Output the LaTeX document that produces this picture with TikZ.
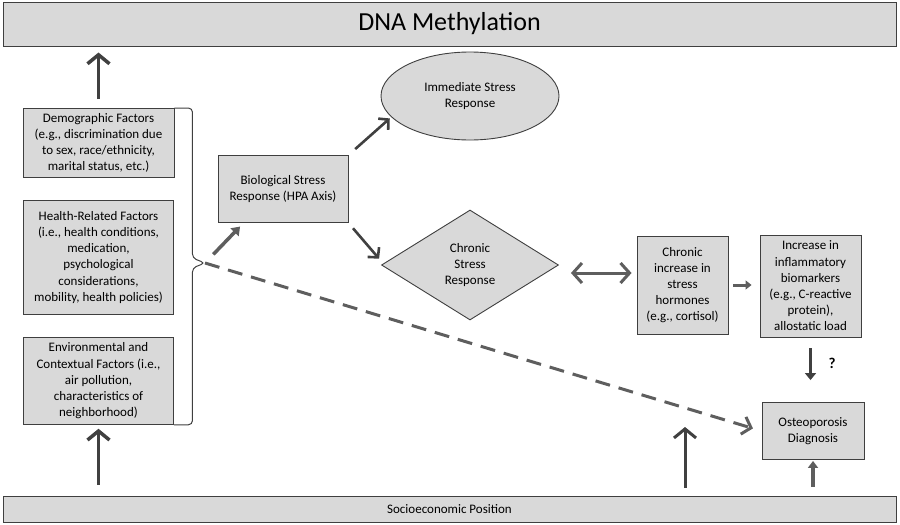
\documentclass[tikz,border=0pt]{standalone}
\usepackage{fontspec}
\setmainfont{Carlito}
\usetikzlibrary{shapes.geometric,arrows.meta,positioning,calc}
\definecolor{boxgray}{HTML}{D9D9D9}
\definecolor{edgegray}{HTML}{3F3F3F}
\definecolor{arrdark}{HTML}{404040}
\definecolor{arrlight}{HTML}{5E5E5E}
\tikzset{
  factbox/.style={
    rectangle,
    fill=boxgray,
    draw=edgegray, line width=0.9pt,
    align=center,
    inner sep=1pt,
    font=\fontsize{13}{16.2}\selectfont},
  bar/.style={rectangle, fill=boxgray, draw=edgegray, line width=1pt, inner sep=0pt},
  oval/.style={factbox, ellipse, minimum width=178pt, minimum height=88pt},
  rhomb/.style={factbox, diamond, aspect=1.6, inner sep=0pt,
    minimum width=177pt, minimum height=110pt},
  bracket/.style={draw=edgegray, line width=1pt, rounded corners=4pt},
  uparr/.style={draw=arrdark, line width=3.5pt, -{Straight Barb[length=9pt,width=22pt]}},
  thinarr/.style={draw=arrdark, line width=2.6pt, -{Straight Barb[length=7pt,width=15pt]}},
  fatarr/.style={draw=arrlight, line width=3.5pt, -{Triangle[length=8pt,width=11pt]}},
  dasharr/.style={draw=arrlight, line width=3pt, dash pattern=on 15pt off 9pt,
    -{Straight Barb[length=8pt,width=18pt]}},
  bothway/.style={draw=arrlight, line width=3pt,
    {Straight Barb[length=9pt,width=20pt]}-{Straight Barb[length=9pt,width=20pt]}},
}
\begin{document}
\begin{tikzpicture}
  [x=1pt, y=-1pt,
  node distance=22pt]
  \useasboundingbox (0,0) rectangle (900,525);
  % the two bars, top and bottom
  \node[bar, minimum width=893pt, minimum height=44pt, font=\fontsize{26}{30}\selectfont]
    (dna) at (449.5,24) {DNA Methylation};
  \node[bar, minimum width=893pt, minimum height=26pt, font=\fontsize{13}{16}\selectfont]
    (sep) at (449.5,509) {Socioeconomic Position};
  % left column of factors
  \node[factbox, minimum width=151pt, minimum height=69pt] (demog) at (98.5,143)
    {Demographic Factors\\(e.g., discrimination due\\to sex, race/ethnicity,\\marital status, etc.)};
  \node[factbox, minimum width=150pt, minimum height=114pt, below=of demog] (health)
    {Health-Related Factors\\(i.e., health conditions,\\medication,\\psychological\\considerations,\\mobility, health policies)};
  \node[factbox, minimum width=150pt, minimum height=87pt, below=of health] (env)
    {Environmental and\\Contextual Factors (i.e.,\\air pollution,\\characteristics of\\neighborhood)};
  % stress pathway
  \node[factbox, minimum width=130pt, minimum height=67pt] (bio) at (283,189)
    {Biological Stress\\Response (HPA Axis)};
  \node[oval] (imm) at (470,96) {Immediate Stress\\Response};
  \node[rhomb] (chr) at (470,265) {Chronic\\Stress\\Response};
  \node[factbox, minimum width=91pt, minimum height=98pt] (cinc) at (682.5,285)
    {Chronic\\increase in\\stress\\hormones\\(e.g., cortisol)};
  \node[factbox, minimum width=101pt, minimum height=102pt] (infl) at (810.5,286)
    {Increase in\\inflammatory\\biomarkers\\(e.g., C-reactive\\protein),\\allostatic load};
  \node[factbox, minimum width=102pt, minimum height=57pt] (osteo) at (813,431)
    {Osteoporosis\\Diagnosis};
  \node[font=\fontsize{15}{18}\selectfont\bfseries] (qm) at (832,363) {?};
  %% the bracket that groups the three factor boxes
  \coordinate (tip) at (205,263);
  \draw[bracket] (demog.north east) -- ++(18,0) coordinate (b1)
    -- ($(b1 |- tip)+(0,-5)$) -- (tip) -- ($(b1 |- tip)+(0,5)$)
    -- (b1 |- env.south east) -- (env.south east);
  %% arrows
  \draw[uparr, shorten <=9pt, shorten >=6pt] (demog.north) -- (demog.north |- dna.south);
  \draw[uparr, shorten <=11pt, shorten >=4pt] (env.south |- sep.north) -- (env.south);
  \coordinate (free) at (685,427);
  \draw[uparr, line width=3pt, shorten <=8pt] (free |- sep.north) -- (free);
  \draw[fatarr, -{Triangle[length=7pt,width=10pt]}, shorten <=9pt, shorten >=1pt]
    (osteo.south |- sep.north) -- (osteo.south);
  \draw[fatarr, shorten <=12pt, shorten >=5pt] (tip) -- ([xshift=26pt]bio.south west);
  \draw[thinarr, shorten <=9pt, shorten >=2pt] (bio.north east) -- (imm.195);
  \draw[thinarr, shorten <=7pt, shorten >=3pt] (bio.south east) -- ([yshift=4pt]chr.west);
  \draw[dasharr, shorten >=9pt] (tip) -- (osteo.west);
  \draw[bothway, shorten <=12pt, shorten >=5pt]
    ([yshift=-8pt]chr.east) -- ([yshift=-8pt]chr.east -| cinc.west);
  \draw[fatarr, line width=3pt, -{Triangle[length=6pt,width=9pt]}, shorten <=5pt, shorten >=8pt]
    (cinc.east) -- (infl.west |- cinc.east);
  \draw[fatarr, draw=arrdark, -{Triangle[length=7pt,width=11pt]},
    shorten <=11pt, shorten >=22pt] (infl.south) -- (infl.south |- osteo.north);
\end{tikzpicture}
\end{document}
